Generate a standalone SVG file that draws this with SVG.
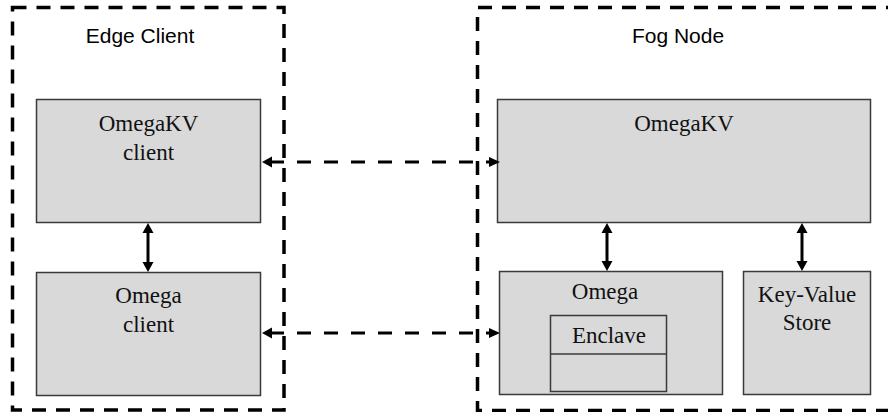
<svg xmlns="http://www.w3.org/2000/svg" width="888" height="412" viewBox="0 0 888 412">
  <style>
    .zone { fill: none; stroke: #000; stroke-width: 3.5; stroke-dasharray: 14 10; }
    .box { fill: #d9d9d9; stroke: #3a3a3a; stroke-width: 1.5; }
    .zone-title { font-family: "Liberation Sans", Arial, sans-serif; font-size: 21px; fill: #000; text-anchor: middle; }
    .label { font-family: "Liberation Serif", "Times New Roman", serif; font-size: 23px; fill: #111; text-anchor: middle; }
    .link { fill: none; stroke: #000; stroke-width: 3; }
    .dashed { stroke-dasharray: 14 13; }
    .head { fill: #000; }
  </style>

  <rect width="888" height="412" fill="#fff"/>

  <!-- Edge client zone -->
  <g id="edge-client">
    <rect class="zone" x="12.5" y="7.5" width="271.5" height="402.5"/>
    <text class="zone-title" x="140" y="43">Edge Client</text>
  </g>

  <!-- Fog node zone (open to the right) -->
  <g id="fog-node">
    <path class="zone" d="M900,7.5 H477.5 V410.5 H900"/>
    <text class="zone-title" x="678" y="43">Fog Node</text>
  </g>

  <g id="omegakv-client">
    <rect class="box" x="36.5" y="99.5" width="224" height="123"/>
    <text class="label" x="148.5" y="131">OmegaKV</text>
    <text class="label" x="148.5" y="160">client</text>
  </g>

  <g id="omega-client">
    <rect class="box" x="36.5" y="272.5" width="224" height="123"/>
    <text class="label" x="148.5" y="303">Omega</text>
    <text class="label" x="148.5" y="332">client</text>
  </g>

  <g id="omegakv">
    <rect class="box" x="497.5" y="99.5" width="373" height="123"/>
    <text class="label" x="684" y="131">OmegaKV</text>
  </g>

  <g id="omega">
    <rect class="box" x="499.5" y="271.5" width="223" height="123"/>
    <text class="label" x="605" y="299">Omega</text>
  </g>

  <g id="enclave">
    <rect class="box" x="550.5" y="315.5" width="116" height="76"/>
    <line x1="550.5" y1="354" x2="666.5" y2="354" stroke="#3a3a3a" stroke-width="1.5"/>
    <text class="label" x="609" y="343">Enclave</text>
  </g>

  <g id="key-value-store">
    <rect class="box" x="743.5" y="271.5" width="127" height="123"/>
    <text class="label" x="807" y="302">Key-Value</text>
    <text class="label" x="807" y="330">Store</text>
  </g>

  <!-- Connectors -->
  <g id="connectors">
    <!-- vertical two-way links -->
    <path class="link" d="M148,232 V263"/>
    <polygon class="head" points="148,223 142.5,233 153.5,233"/>
    <polygon class="head" points="148,272 142.5,262 153.5,262"/>

    <path class="link" d="M607,232 V262"/>
    <polygon class="head" points="607,223 601.5,233 612.5,233"/>
    <polygon class="head" points="607,271 601.5,261 612.5,261"/>

    <path class="link" d="M802,232 V262"/>
    <polygon class="head" points="802,223 796.5,233 807.5,233"/>
    <polygon class="head" points="802,271 796.5,261 807.5,261"/>

    <!-- dashed links between client and fog node -->
    <path class="link dashed" d="M270,162 H490"/>
    <polygon class="head" points="262,162 272,156.5 272,167.5"/>
    <polygon class="head" points="500,162 489,157 489,167"/>

    <path class="link dashed" d="M270,333 H490"/>
    <polygon class="head" points="262,333 272,327.5 272,338.5"/>
    <polygon class="head" points="500,333 489,328 489,338"/>
  </g>
</svg>
